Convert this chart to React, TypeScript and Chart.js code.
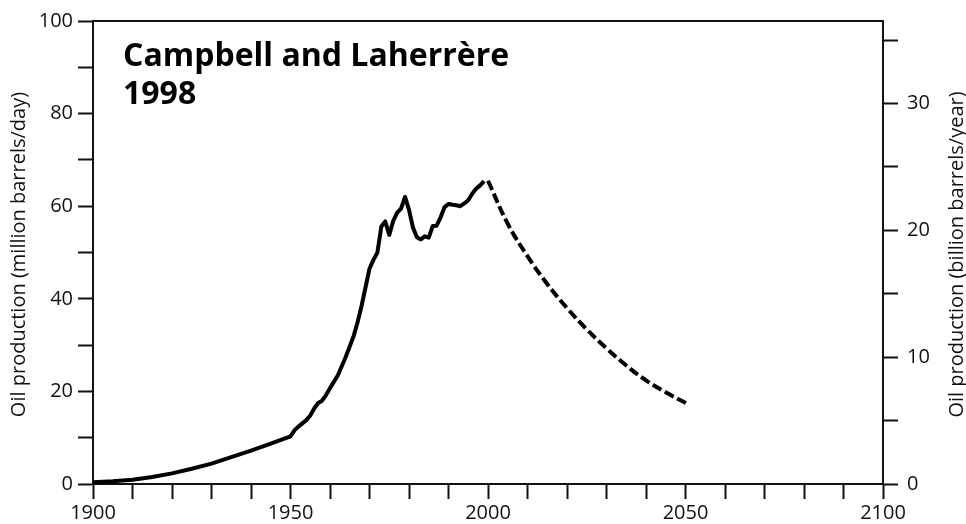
import React, { useEffect, useRef } from 'react';
import { Chart, registerables } from 'chart.js';

Chart.register(...registerables);

// ---- Data (million barrels/day) ----
const histYears = [
  1900, 1905, 1910, 1915, 1920, 1925, 1930, 1935, 1940, 1945,
  1950, 1951, 1952, 1953, 1954, 1955, 1956, 1957, 1958, 1959,
  1960, 1962, 1964, 1966, 1967, 1968, 1969, 1970, 1971, 1972,
  1973, 1974, 1975, 1976, 1977, 1978, 1979, 1980, 1981, 1982,
  1983, 1984, 1985, 1986, 1987, 1988, 1989, 1990, 1991, 1992,
  1993, 1994, 1995, 1996, 1997, 1998, 1999,
];
const histValues = [
  0.4, 0.6, 0.9, 1.5, 2.3, 3.3, 4.4, 5.8, 7.2, 8.7,
  10.3, 11.6, 12.4, 13.1, 13.8, 14.8, 16.3, 17.5, 18.0, 19.2,
  20.7, 23.5, 27.5, 32.0, 35.0, 38.5, 42.5, 46.5, 48.4, 50.0,
  55.6, 56.7, 53.8, 56.8, 58.6, 59.5, 62.0, 59.2, 55.4, 53.3,
  52.8, 53.5, 53.2, 55.7, 55.8, 57.6, 59.8, 60.5, 60.3, 60.2,
  60.0, 60.6, 61.3, 62.7, 63.8, 64.5, 65.4,
];

const forecastYears = [2000, 2005, 2010, 2015, 2020, 2025, 2030, 2035, 2040, 2045, 2051];
const forecastValues = [65.5, 56.2, 49.2, 43.2, 38.0, 33.4, 29.3, 25.6, 22.4, 19.8, 17.1];

// ---- Axes / labels ----
const xMin = 1900;
const xMax = 2100;
const xTickStep = 10;
const xLabelEvery = 50;
const leftMax = 100;
const leftTickStep = 10;
const leftLabelEvery = 20;
const rightTickValues = [0, 5, 10, 15, 20, 25, 30, 35];
const rightLabelEvery = 10;
const gbPerYearPerMbPerDay = 0.365;

const chartTitleLines = ['Campbell and Laherrère', '1998'];
const leftAxisTitle = 'Oil production (million barrels/day)';
const rightAxisTitle = 'Oil production (billion barrels/year)';

const FONT = '"Open Sans", "DejaVu Sans", sans-serif';
const INK = '#111';

const framePlugin = {
  id: 'frameAndTitles',
  afterDraw(chart: any) {
    const { ctx, chartArea } = chart;
    const { left, right, top, bottom } = chartArea;
    ctx.save();
    // top frame line
    ctx.strokeStyle = INK;
    ctx.lineWidth = 2;
    ctx.beginPath();
    ctx.moveTo(left - 1, top);
    ctx.lineTo(right + 1, top);
    ctx.stroke();

    // chart title inside the plot
    ctx.fillStyle = '#000';
    ctx.font = `bold 32px ${FONT}`;
    ctx.textAlign = 'left';
    ctx.textBaseline = 'alphabetic';
    chartTitleLines.forEach((line, i) => {
      ctx.fillText(line, left + 30, top + 45 + i * 38);
    });

    // axis titles (both read bottom-to-top)
    const midY = (top + bottom) / 2 + 2;
    ctx.font = `20px ${FONT}`;
    ctx.fillStyle = INK;
    ctx.textAlign = 'center';
    ctx.textBaseline = 'middle';
    ctx.save();
    ctx.translate(19, midY);
    ctx.rotate(-Math.PI / 2);
    ctx.fillText(leftAxisTitle, 0, 0);
    ctx.restore();
    ctx.save();
    ctx.translate(chart.width - 9, midY);
    ctx.rotate(-Math.PI / 2);
    ctx.fillText(rightAxisTitle, 0, 0);
    ctx.restore();
    ctx.restore();
  },
};

export default function App() {
  const canvasRef = useRef<HTMLCanvasElement | null>(null);

  useEffect(() => {
    if (!canvasRef.current) return;
    const histData = histYears.map((x, i) => ({ x, y: histValues[i] }));
    const foreData = forecastYears.map((x, i) => ({ x, y: forecastValues[i] }));

    const tickFont = { family: FONT, size: 20 };
    const gridCommon = {
      drawOnChartArea: false,
      drawTicks: true,
      tickLength: 15,
      tickWidth: 2,
      color: INK,
    };
    const borderCommon = { display: true, width: 2, color: INK };

    const chart = new Chart(canvasRef.current, {
      type: 'line',
      data: {
        datasets: [
          {
            data: histData,
            borderColor: '#000',
            borderWidth: 4,
            pointRadius: 0,
            tension: 0,
            fill: false,
            yAxisID: 'y',
            xAxisID: 'x',
            borderJoinStyle: 'round',
            borderCapStyle: 'butt',
          },
          {
            data: foreData,
            borderColor: '#000',
            borderWidth: 4,
            borderDash: [10, 4],
            pointRadius: 0,
            tension: 0.4,
            fill: false,
            yAxisID: 'y',
            xAxisID: 'x',
          },
        ],
      },
      options: {
        animation: false,
        responsive: true,
        maintainAspectRatio: false,
        layout: { padding: { top: 21, left: 0, right: 0, bottom: 0 } },
        plugins: {
          legend: { display: false },
          tooltip: { enabled: false },
          title: { display: false },
        },
        scales: {
          x: {
            type: 'linear',
            position: 'bottom',
            min: xMin,
            max: xMax,
            ticks: {
              stepSize: xTickStep,
              autoSkip: false,
              maxRotation: 0,
              font: tickFont,
              color: INK,
              padding: 2,
              callback: (v: any) => (Number(v) % xLabelEvery === 0 ? String(v) : ''),
            },
            grid: gridCommon,
            border: borderCommon,
            afterFit: (s: any) => { s.height = 40; },
          },
          y: {
            type: 'linear',
            position: 'left',
            min: 0,
            max: leftMax,
            ticks: {
              stepSize: leftTickStep,
              autoSkip: false,
              font: tickFont,
              color: INK,
              padding: 5,
              callback: (v: any) => (Number(v) % leftLabelEvery === 0 ? String(v) : ''),
            },
            grid: gridCommon,
            border: borderCommon,
            afterFit: (s: any) => { s.width = 93; },
          },
          y2: {
            type: 'linear',
            position: 'right',
            min: 0,
            max: leftMax * gbPerYearPerMbPerDay,
            afterBuildTicks: (s: any) => {
              s.ticks = rightTickValues.map((value) => ({ value }));
            },
            ticks: {
              autoSkip: false,
              font: tickFont,
              color: INK,
              padding: 9,
              callback: (v: any) => (Number(v) % rightLabelEvery === 0 ? String(v) : ''),
            },
            grid: gridCommon,
            border: borderCommon,
            afterFit: (s: any) => { s.width = 83; },
          },
        },
      } as any,
      plugins: [framePlugin],
    });
    return () => chart.destroy();
  }, []);

  return (
    <div style={{ position: 'absolute', left: 0, top: 0, width: 966, height: 524, background: '#fff' }}>
      <canvas ref={canvasRef} />
    </div>
  );
}
